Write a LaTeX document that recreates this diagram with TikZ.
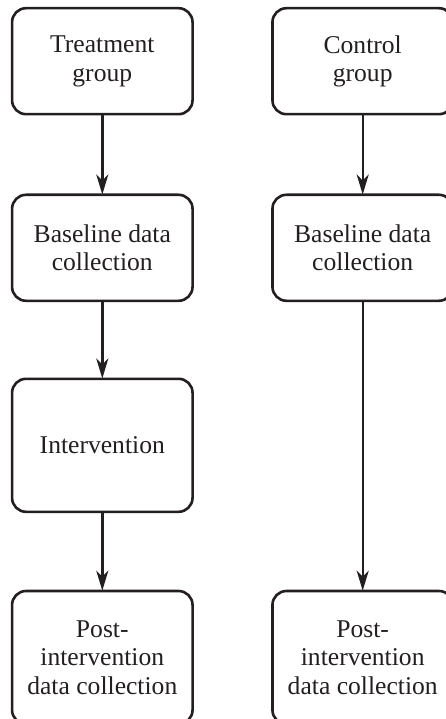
\documentclass[tikz,border=0pt]{standalone}
\usepackage{fontspec}
\setmainfont{Liberation Serif}
\usetikzlibrary{arrows.meta}
\definecolor{ink}{HTML}{231F20}
\begin{document}
\begin{tikzpicture}[x=1pt,y=-1pt,
  box/.style={draw=ink, line width=2.6pt, rounded corners=14pt, rectangle,
    minimum width=180.5pt, align=center, inner sep=0pt,
    font=\fontsize{25.6}{28.5}\selectfont, text=ink},
  twoline/.style={box, minimum height=106pt},
  threeline/.style={box, minimum height=133pt},
  arr/.style={draw=ink, line width=2.4pt, -{Stealth[length=20pt,width=12pt,inset=6pt]}, shorten >=-1pt}
]
\useasboundingbox (0,0) rectangle (446,719);
\clip (0,0) rectangle (446,719);
\node[twoline] (t1) at (102.3,61.2) {Treatment\\group};
\node[twoline] (t2) at (102.3,247.8) {Baseline data\\collection};
\node[threeline] (t3) at (102.3,445.3) {Intervention};
\node[threeline] (t4) at (102.3,657.5) {Post-\\intervention\\data collection};
\node[twoline] (c1) at (362.7,61.2) {Control\\group};
\node[twoline] (c2) at (362.7,247.8) {Baseline data\\collection};
\node[threeline] (c4) at (362.7,657.5) {Post-\\intervention\\data collection};
\draw[arr] (t1) -- (t2);
\draw[arr] (t2) -- (t3);
\draw[arr] (t3) -- (t4);
\draw[arr] (c1) -- (c2);
\draw[arr] (c2) -- (c4);
\end{tikzpicture}
\end{document}
